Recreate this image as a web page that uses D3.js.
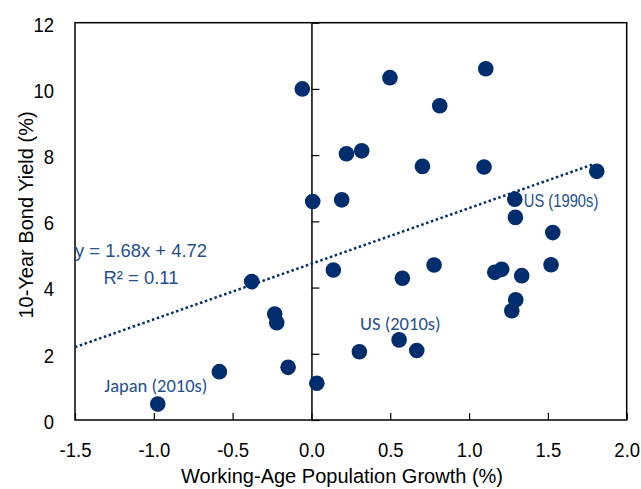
<!DOCTYPE html>
<html><head><meta charset="utf-8">
<script src="https://cdn.jsdelivr.net/npm/d3@7"></script>
<style>body{margin:0;background:#fff}svg{display:block}</style>
</head><body>
<svg id="c" width="641" height="489"></svg>
<script>
const growth = [-0.975,-0.584,-0.379,-0.233,-0.220,-0.148,0.034,-0.058,0.008,0.139,0.304,0.556,0.668,0.577,0.778,1.163,1.207,1.334,1.296,1.271,1.520,1.531,0.498,1.106,0.814,0.222,0.319,0.704,1.095,1.810,0.192,1.290,1.294];
const yields = [0.48,1.46,4.18,3.20,2.94,1.59,1.11,10.0,6.60,4.53,2.06,2.42,2.10,4.28,4.68,4.46,4.55,4.36,3.63,3.30,4.69,5.66,10.34,10.61,9.49,8.04,8.13,7.66,7.64,7.51,6.65,6.67,6.12];
const xTicks = [-1.5,-1.0,-0.5,0.0,0.5,1.0,1.5,2.0];
const yTicks = [0,2,4,6,8,10,12];
const trend = {slope:1.68, intercept:4.72, x0:-1.5, x1:1.78};
const labels = [
  {text:"Japan (2010s)", gx:-0.975, gy:0.48},
  {text:"US (2010s)", gx:0.556, gy:2.42},
  {text:"US (1990s)", gx:1.290, gy:6.67}
];

const svg = d3.select("#c");
const L=75, R=626.7, T=22.7, B=420;
const x = d3.scaleLinear().domain([-1.5,2.0]).range([L,R]);
const y = d3.scaleLinear().domain([0,12]).range([B,T]);
const navy = "#002d6e", txtBlue = "#234f8e";
const arial = "Liberation Sans, Arial, sans-serif";

// frame
svg.append("rect").attr("x",L).attr("y",T).attr("width",R-L).attr("height",B-T)
  .attr("fill","none").attr("stroke","#000").attr("stroke-width",1.5);

// bottom axis: ticks pointing up
const xAxis = svg.append("g").attr("transform",`translate(0,${B})`)
  .call(d3.axisBottom(x).tickValues(xTicks).tickFormat(d=>d.toFixed(1)).tickSizeInner(-7).tickSizeOuter(0));
xAxis.select(".domain").remove();
xAxis.selectAll("line").attr("stroke","#000").attr("stroke-width",1.2);
xAxis.selectAll("text").attr("y",37).attr("dy",null)
  .attr("font-family",arial).attr("font-size",21).attr("fill","#000")
  .attr("transform","scale(0.88,1)");

// vertical zero axis with ticks pointing right
const yAxis = svg.append("g").attr("transform",`translate(${x(0)},0)`)
  .call(d3.axisRight(y).tickValues(yTicks).tickSizeInner(8).tickSizeOuter(0).tickFormat(""));
yAxis.select(".domain").attr("stroke","#000").attr("stroke-width",1.5);
yAxis.selectAll("line").attr("stroke","#000").attr("stroke-width",1.2);

// y tick labels on the left
svg.append("g").selectAll("g").data(yTicks).join("g")
  .attr("transform",d=>`translate(54,${y(d)+1.5}) scale(0.88,1)`)
  .append("text").attr("dy","0.35em").attr("text-anchor","end")
  .attr("font-family",arial).attr("font-size",21).attr("fill","#000")
  .text(d=>d);

// axis titles
svg.append("text").attr("x",342).attr("y",483).attr("text-anchor","middle")
  .attr("font-family",arial).attr("font-size",20).attr("fill","#000")
  .text("Working-Age Population Growth (%)");
svg.append("text").attr("transform","translate(33,215) rotate(-90)").attr("text-anchor","middle")
  .attr("font-family",arial).attr("font-size",20).attr("fill","#000")
  .text("10-Year Bond Yield (%)");

// trend line
const tx = [trend.x0, trend.x1];
svg.append("line")
  .attr("x1",x(tx[0])).attr("y1",y(trend.slope*tx[0]+trend.intercept))
  .attr("x2",x(tx[1])).attr("y2",y(trend.slope*tx[1]+trend.intercept))
  .attr("stroke",navy).attr("stroke-width",2.5).attr("stroke-dasharray","2.5,2.6");

// points
svg.append("g").selectAll("circle").data(growth.map((g,i)=>[g,yields[i]])).join("circle")
  .attr("cx",d=>x(d[0])).attr("cy",d=>y(d[1])).attr("r",7.8).attr("fill",navy);

// equation
const eq = svg.append("text").attr("font-family",arial).attr("font-size",18.4).attr("fill",txtBlue).attr("text-anchor","middle");
eq.append("tspan").attr("x",141).attr("y",257).text("y = 1.68x + 4.72");
eq.append("tspan").attr("x",141).attr("y",284).text("R² = 0.11");

// point labels
const style = {
  "Japan (2010s)":{dx:-53.5, dy:-12.5, font:"Carlito, Lato, sans-serif", size:18.5, sx:1},
  "US (2010s)":{dx:-39, dy:-10, font:"Carlito, Lato, sans-serif", size:18.5, sx:1},
  "US (1990s)":{dx:9, dy:8, font:arial, size:18, sx:0.82}
};
svg.append("g").selectAll("g").data(labels).join("g")
  .attr("transform",d=>`translate(${x(d.gx)+style[d.text].dx},${y(d.gy)+style[d.text].dy}) scale(${style[d.text].sx},1)`)
  .append("text")
  .attr("font-family",d=>style[d.text].font).attr("font-size",d=>style[d.text].size).attr("fill",txtBlue)
  .text(d=>d.text);
</script>
</body></html>
